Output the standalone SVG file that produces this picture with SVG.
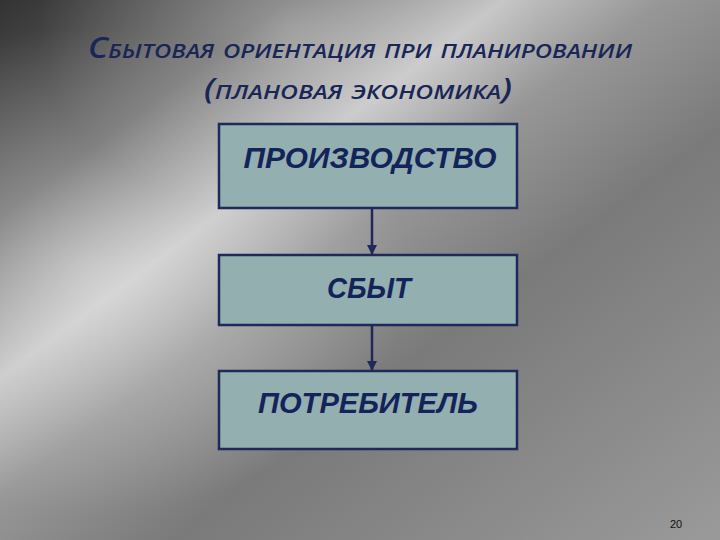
<svg xmlns="http://www.w3.org/2000/svg" width="720" height="540" viewBox="0 0 720 540">
<defs>
<linearGradient id="bg" x1="0" y1="0" x2="1" y2="1" gradientUnits="objectBoundingBox">
<stop offset="0" stop-color="#333333"/>
<stop offset="0.2" stop-color="#666666"/>
<stop offset="0.35" stop-color="#c4c4c4"/>
<stop offset="0.46" stop-color="#979797"/>
<stop offset="0.62" stop-color="#7a7a7a"/>
<stop offset="1" stop-color="#9a9a9a"/>
</linearGradient>
<radialGradient id="glow" cx="0.12" cy="0.5" r="0.45">
<stop offset="0" stop-color="#ffffff" stop-opacity="0.35"/>
<stop offset="1" stop-color="#ffffff" stop-opacity="0"/>
</radialGradient>
<radialGradient id="glow2" cx="0.4" cy="0.05" r="0.35">
<stop offset="0" stop-color="#ffffff" stop-opacity="0.3"/>
<stop offset="1" stop-color="#ffffff" stop-opacity="0"/>
</radialGradient>
<marker id="arr" viewBox="0 0 10 10" refX="9" refY="5" markerWidth="4" markerHeight="4" orient="auto">
<path d="M0,0 L10,5 L0,10 z" fill="#1f2a5a"/>
</marker>
</defs>
<style>
.box{fill:#93afaf;stroke:#1f2a5a;stroke-width:2.5}
.lbl{font-family:"Liberation Sans",Arial,sans-serif;font-weight:bold;font-style:italic;font-size:30px;fill:#14245a;text-anchor:middle}
.ttl{font-family:"Open Sans","Noto Sans",sans-serif;font-variant:small-caps;font-style:italic;font-weight:600;font-size:28px;fill:#1a2656;text-anchor:middle}
.conn{stroke:#1f2a5a;stroke-width:2.5;fill:none}
</style>
<rect width="720" height="540" fill="url(#bg)"/>
<rect width="720" height="540" fill="url(#glow)"/>
<rect width="720" height="540" fill="url(#glow2)"/>
<g id="title">
<text class="ttl" x="360" y="58" textLength="544" lengthAdjust="spacingAndGlyphs">Сбытовая ориентация при планировании</text>
<text class="ttl" x="358" y="99" textLength="308" lengthAdjust="spacingAndGlyphs">(плановая экономика)</text>
</g>
<g id="connectors">
<line class="conn" x1="372" y1="208" x2="372" y2="254" marker-end="url(#arr)"/>
<line class="conn" x1="372" y1="325" x2="372" y2="370" marker-end="url(#arr)"/>
</g>
<g id="node-production">
<rect class="box" x="219" y="124" width="298" height="84"/>
<text class="lbl" x="370" y="168" textLength="253" lengthAdjust="spacingAndGlyphs">ПРОИЗВОДСТВО</text>
</g>
<g id="node-sales">
<rect class="box" x="219" y="255" width="298" height="70"/>
<text class="lbl" x="369" y="298" textLength="84" lengthAdjust="spacingAndGlyphs">СБЫТ</text>
</g>
<g id="node-consumer">
<rect class="box" x="219" y="371" width="298" height="78"/>
<text class="lbl" x="368" y="413" textLength="220" lengthAdjust="spacingAndGlyphs">ПОТРЕБИТЕЛЬ</text>
</g>
<text x="676" y="528" font-family="Liberation Sans,Arial,sans-serif" font-size="11" fill="#111" text-anchor="middle">20</text>
</svg>
